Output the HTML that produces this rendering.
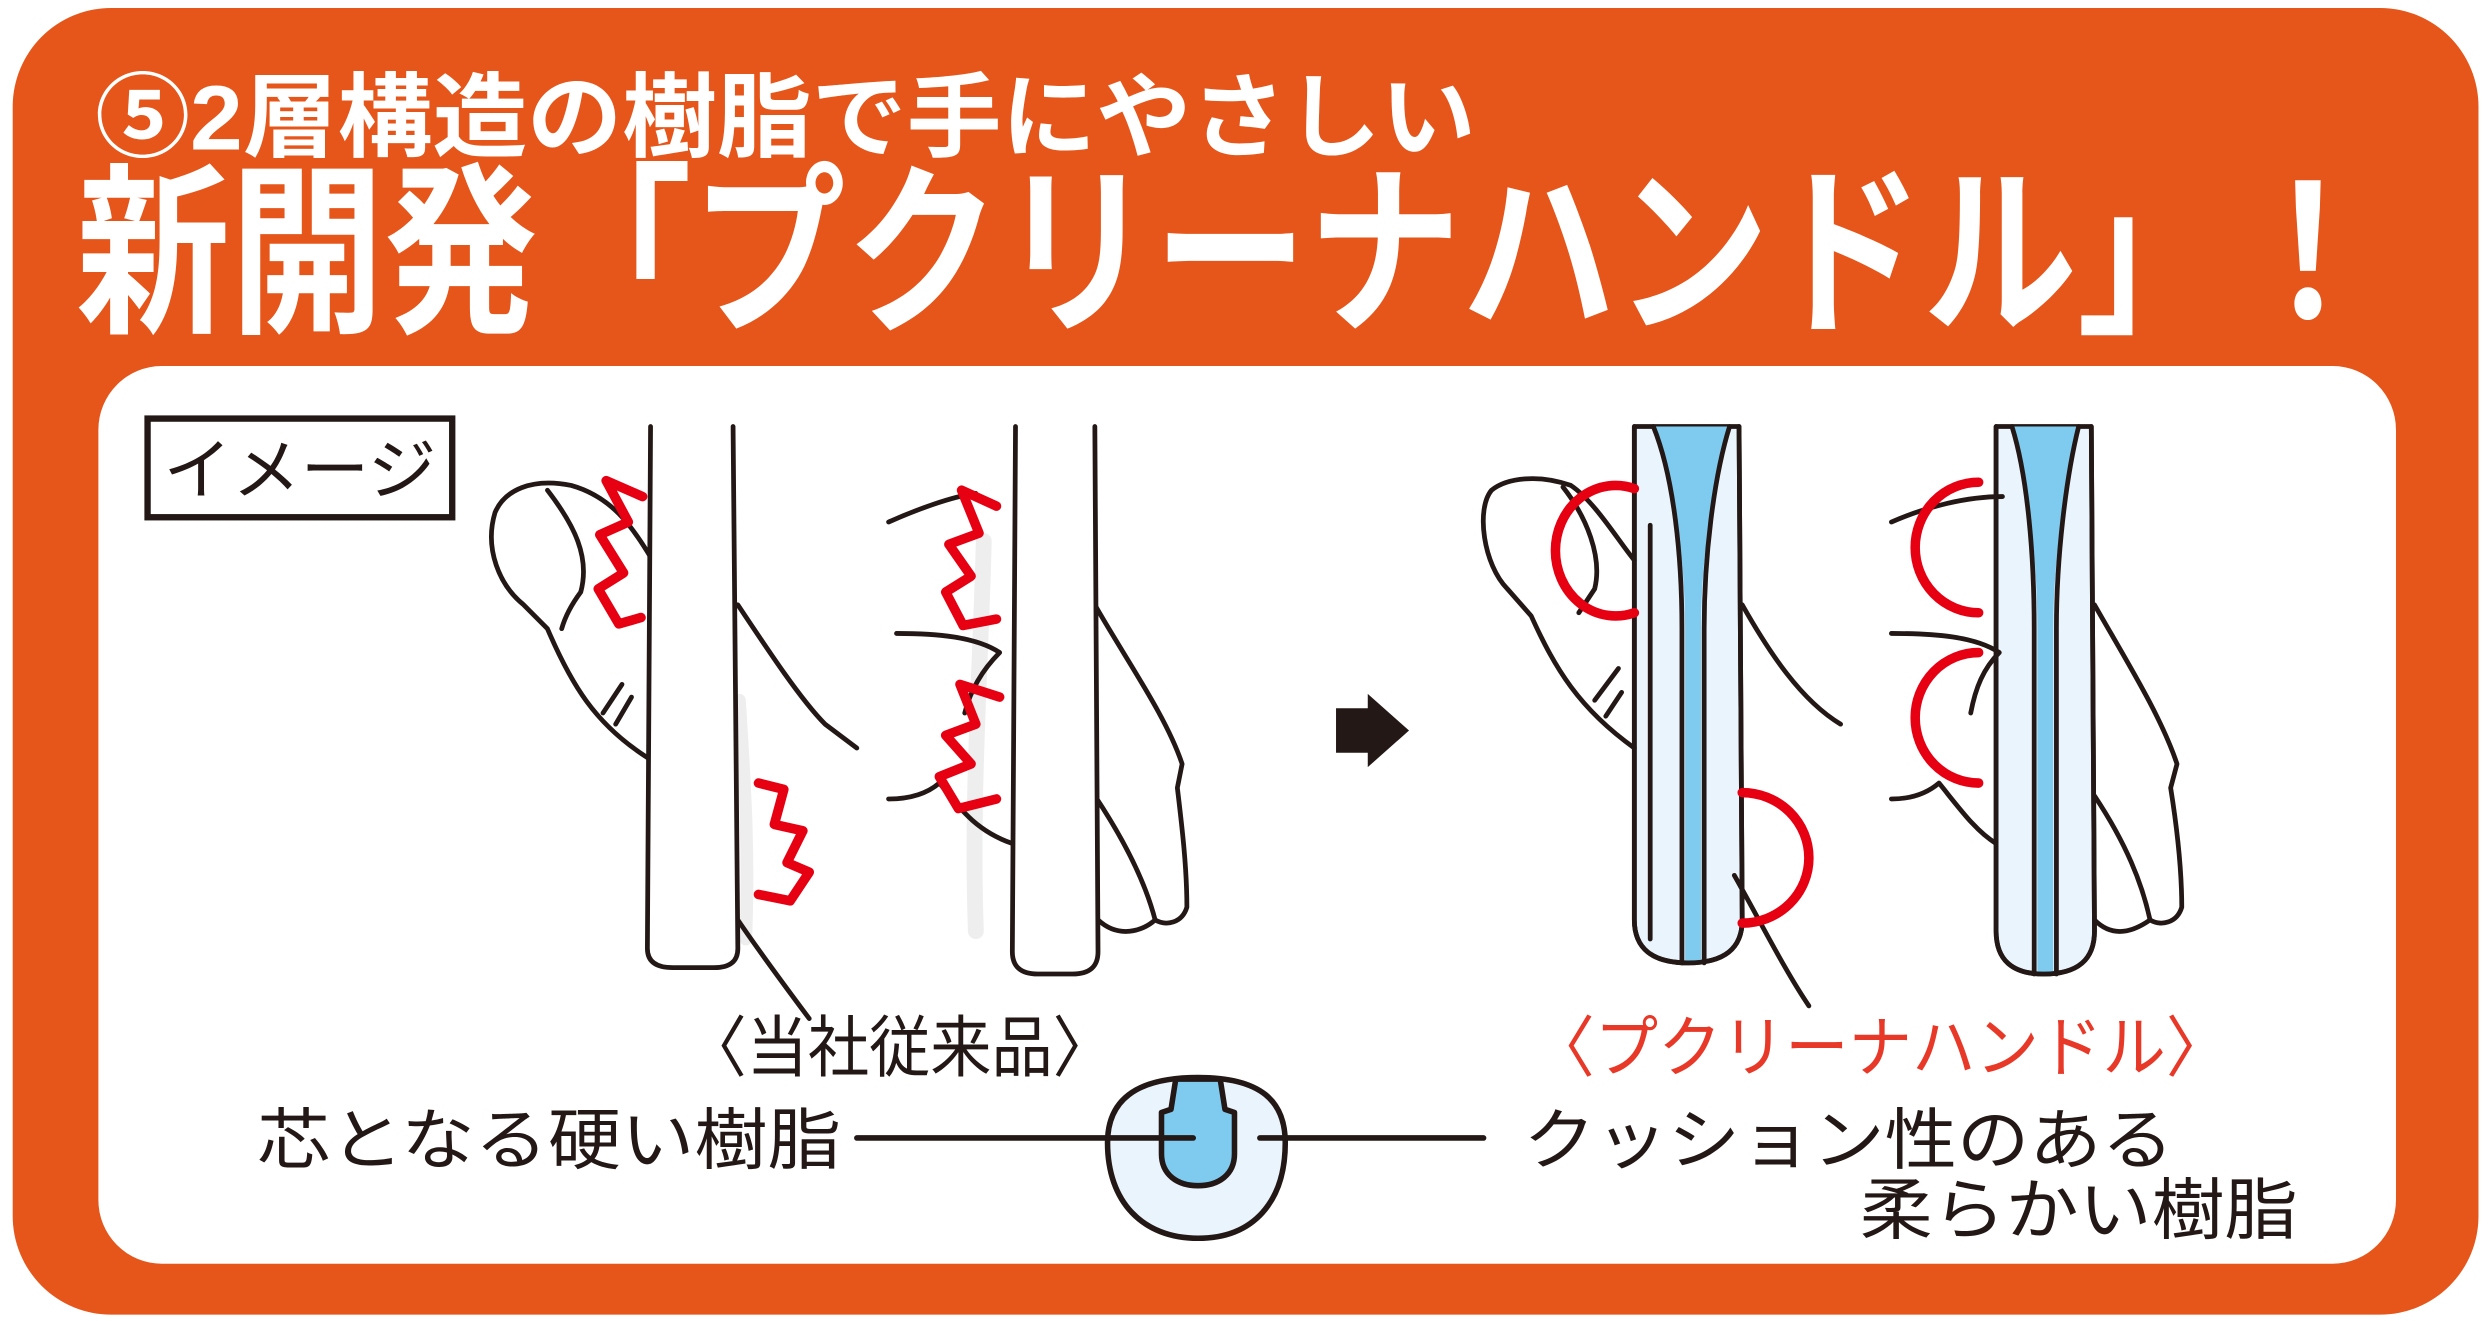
<!DOCTYPE html>
<html><head><meta charset="utf-8"><style>html,body{margin:0;padding:0;background:#fff}svg{display:block}</style></head>
<body>
<svg width="2488" height="1321" viewBox="0 0 1568 830" preserveAspectRatio="none" xmlns="http://www.w3.org/2000/svg" font-family="'Liberation Sans','Noto Sans CJK JP',sans-serif">
<rect x="8" y="5" width="1554" height="821" rx="62" fill="#E65519"/>
<text x="60" y="94" font-size="58" font-weight="bold" fill="#fff" textLength="870" lengthAdjust="spacingAndGlyphs">⑤2層構造の樹脂で手にやさしい</text>
<text x="48" y="200" font-size="116" font-weight="bold" fill="#fff" textLength="1455" lengthAdjust="spacingAndGlyphs">新開発「プクリーナハンドル」！</text>
<rect x="62" y="230" width="1448" height="564" rx="40" fill="#fff"/>
<rect x="93" y="263" width="192" height="62" fill="#fff" stroke="#231815" stroke-width="4"/>
<text x="103" y="310" font-size="42" fill="#231815" textLength="172" lengthAdjust="spacingAndGlyphs">イメージ</text>
<g fill="none" stroke="#231815" stroke-width="3" stroke-linecap="round" stroke-linejoin="round">
<path d="M466,440 C470,500 472,540 470,590" stroke="#eeeeee" stroke-width="8"/>
<path d="M410,350 C398,330 385,312 360,305 C335,300 318,308 312,322 C305,345 315,368 330,380 L345,395 C360,430 375,455 408,476"/>
<path d="M345,308 C362,330 372,350 366,372 C360,380 356,388 354,395"/>
<path d="M380,448 L392,430 M388,455 L398,438"/>
<path d="M465,380 C485,410 505,440 520,455 L540,470"/>
<path d="M465,578 C480,600 495,620 510,640"/>
<path d="M410,268 L408,596 Q408,608 424,608 L450,608 Q465,608 465,596 L462,268" fill="#fff"/>
<path d="M620,340 C618,420 612,500 615,585" stroke="#eeeeee" stroke-width="10"/>
<path d="M560,328 C578,320 600,312 615,310"/>
<path d="M565,398 C590,398 615,400 630,410 C620,420 612,432 608,448"/>
<path d="M560,502 C575,502 585,498 592,492 C605,508 615,522 638,530"/>
<path d="M690,380 C710,415 735,450 745,480 L742,495 C745,520 748,545 748,570 C745,580 735,582 728,578 C720,585 705,590 692,578"/>
<path d="M690,500 C710,530 722,555 728,578"/>
<path d="M640,268 L638,598 Q638,612 654,612 L676,612 Q692,612 692,598 L690,268" fill="#fff"/>
<path d="M1030,268 L1030,578 Q1030,605 1064,605 Q1098,605 1098,578 L1096,268 Z" fill="#EAF4FC"/>
<path d="M1042,268 C1055,300 1062,350 1062,395 L1062,605 L1072,605 L1072,395 C1072,350 1080,300 1090,268 Z" fill="#7FCBF0" stroke="none"/>
<path d="M1042,268 C1055,300 1060,350 1060,395 L1060,605 M1090,268 C1080,300 1074,350 1074,395 L1074,605"/>
<path d="M1030,268 L1030,578 Q1030,605 1064,605 Q1098,605 1098,578 L1096,268"/>
<path d="M1040,330 L1040,590"/>
<path d="M1030,352 C1020,340 1005,315 990,305 C970,298 950,300 940,308 C930,320 935,355 950,370 L965,387 C980,420 995,445 1030,470"/>
<path d="M985,306 C1000,325 1010,350 1005,370 L995,385"/>
<path d="M1005,440 L1020,420 M1012,450 L1022,435"/>
<path d="M1098,380 C1115,410 1135,440 1160,455"/>
<path d="M1093,550 C1110,580 1125,610 1140,632"/>
<path d="M1258,268 L1258,585 Q1258,612 1288,612 Q1320,612 1320,585 L1318,268 Z" fill="#EAF4FC"/>
<path d="M1268,268 C1278,300 1284,350 1284,395 L1284,612 L1294,612 L1294,395 C1294,350 1302,300 1310,268 Z" fill="#7FCBF0" stroke="none"/>
<path d="M1268,268 C1278,300 1282,350 1282,395 L1282,612 M1310,268 C1302,300 1296,350 1296,395 L1296,612"/>
<path d="M1258,268 L1258,585 Q1258,612 1288,612 Q1320,612 1320,585 L1318,268"/>
<path d="M1192,328 C1215,318 1240,312 1262,312"/>
<path d="M1192,398 C1220,398 1245,400 1260,410 C1250,420 1245,432 1242,448"/>
<path d="M1192,502 C1205,502 1215,498 1222,492 C1235,508 1245,522 1258,530"/>
<path d="M1320,380 C1340,415 1362,450 1372,480 L1368,495 C1372,520 1375,545 1375,570 C1372,580 1362,582 1355,578 C1345,585 1332,590 1320,578"/>
<path d="M1320,500 C1340,530 1350,555 1355,578"/>
</g>
<g fill="none" stroke="#E60012" stroke-width="6" stroke-linecap="round" stroke-linejoin="round">
<path d="M405,312 L382,302 L396,328 L378,336 L393,360 L377,370 L390,392 L404,388"/>
<path d="M478,492 L494,496 L488,518 L506,522 L496,542 L510,548 L498,566 L478,562"/>
<path d="M628,318 L606,308 L617,335 L598,342 L612,362 L596,372 L607,393 L628,389"/>
<path d="M630,438 L605,430 L615,455 L596,462 L612,480 L592,488 L604,508 L628,502"/>
<path d="M1030,307 A38 41 0 1 0 1030,385"/>
<path d="M1098,498 A42 41 0 1 1 1098,580"/>
<path d="M1247,303 A40 41 0 1 0 1247,385"/>
<path d="M1247,410 A40 41 0 1 0 1247,492"/>
</g>
<path d="M842,445 L862,445 L862,436 L888,459 L862,482 L862,473 L842,473 Z" fill="#231815"/>
<text x="432" y="673" font-size="42" fill="#231815" textLength="270" lengthAdjust="spacingAndGlyphs">〈当社従来品〉</text>
<text x="965" y="673" font-size="42" fill="#E83828" textLength="440" lengthAdjust="spacingAndGlyphs">〈プクリーナハンドル〉</text>
<text x="162" y="731" font-size="42" fill="#231815" textLength="368" lengthAdjust="spacingAndGlyphs">芯となる硬い樹脂</text>
<text x="960" y="731" font-size="42" fill="#231815" textLength="410" lengthAdjust="spacingAndGlyphs">クッション性のある</text>
<text x="1172" y="775" font-size="42" fill="#231815" textLength="276" lengthAdjust="spacingAndGlyphs">柔らかい樹脂</text>
<g stroke="#231815" stroke-width="3.5" stroke-linecap="round" stroke-linejoin="round">
<path d="M755,677 C795,677 810,692 810,718 C810,755 790,778 755,778 C720,778 698,755 698,718 C698,692 715,677 755,677 Z" fill="#EAF4FC"/>
<path d="M741,678 L738,697 L732,699 L732,725 C732,738 742,745 755,745 C768,745 778,738 778,725 L778,699 L772,697 L769,678 Z" fill="#7FCBF0"/>
<path d="M540,715 L752,715 M794,715 L935,715" fill="none"/>
</g>
</svg>
</body></html>
